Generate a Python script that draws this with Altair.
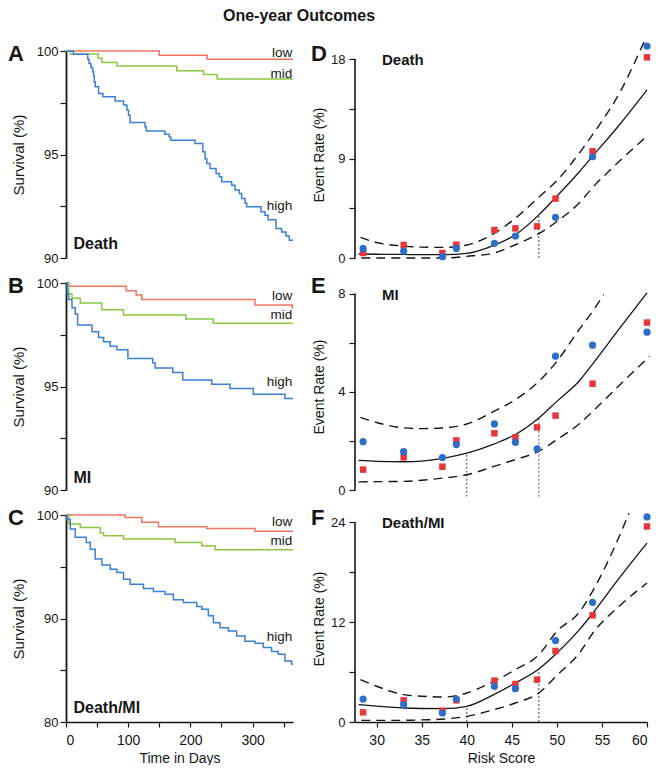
import altair as alt
import pandas as pd

FONT = "Liberation Sans"
INK = "#161616"

# ---------------- Kaplan-Meier steps (day, survival %) ----------------
A_LOW_DAY = [0, 150, 227, 365]
A_LOW_VAL = [100, 99.8, 99.6, 99.6]
A_MID_DAY = [0, 7, 52, 58, 82, 178, 221, 243, 365]
A_MID_VAL = [100, 99.85, 99.65, 99.45, 99.27, 99.05, 98.87, 98.65, 98.65]
A_HIGH_DAY = [0, 12, 35, 37, 40, 43, 44.5, 45.5, 47, 52.4, 59.4, 79, 92.5, 98, 100.5, 103,
              127, 129, 159, 166, 168.5, 207.5, 220, 223.6, 226.3, 231.6, 241.3, 246.6,
              250.4, 266.4, 271.7, 278.7, 282.5, 287.8, 290.5, 313.5, 320, 325, 337.6,
              346.7, 353.6, 359, 365]
A_HIGH_VAL = [100, 99.84, 99.6, 99.4, 99.2, 99.0, 98.8, 98.5, 98.27, 97.95, 97.79, 97.58,
              97.39, 97.15, 96.9, 96.55, 96.34, 96.14, 95.98, 95.85, 95.69, 95.53, 95.13,
              94.8, 94.56, 94.32, 94.08, 93.92, 93.68, 93.52, 93.28, 93.11, 92.87, 92.66,
              92.47, 92.23, 92.07, 91.85, 91.42, 91.26, 91.06, 90.86, 90.86]

B_LOW_DAY = [0, 4.2, 96.8, 112.8, 121.9, 303.9, 364, 365]
B_LOW_VAL = [100, 99.84, 99.63, 99.42, 99.2, 98.94, 98.78, 98.78]
B_MID_DAY = [0, 4.2, 9.6, 23, 57.7, 92.5, 192.6, 236.9, 365]
B_MID_VAL = [100, 99.47, 99.26, 99.03, 98.71, 98.45, 98.26, 98.06, 98.06]
B_HIGH_DAY = [0, 2, 4.2, 9.6, 14.9, 18.7, 41.7, 52.4, 60.4, 71.1, 81.8, 99.5, 139.6, 143.3,
              171.7, 187.8, 234.3, 263.7, 301.2, 352, 365]
B_HIGH_VAL = [100, 99.5, 99.2, 98.8, 98.5, 97.97, 97.65, 97.37, 97.16, 96.94, 96.77, 96.35,
              96.13, 95.89, 95.68, 95.32, 95.11, 94.9, 94.63, 94.42, 94.42]

C_LOW_DAY = [0, 95.2, 121.9, 148.7, 226.3, 303.9, 365]
C_LOW_VAL = [100, 99.77, 99.29, 98.87, 98.7, 98.42, 98.42]
C_MID_DAY = [0, 4.2, 23, 55, 60.4, 92.5, 175.4, 218.3, 239.6, 365]
C_MID_VAL = [100, 99.13, 98.8, 98.26, 98.0, 97.68, 97.35, 97.03, 96.65, 96.65]
C_HIGH_DAY = [0, 1.6, 6.9, 14.9, 32.6, 39, 47, 57.7, 71.1, 81.8, 92.5, 103.2, 124.6, 140.6,
              159.4, 172.7, 188.8, 210.2, 218.3, 228.9, 237, 247.6, 261, 274.4, 287.8,
              303.9, 317.3, 330.6, 341.3, 352, 362.7, 365]
C_HIGH_VAL = [100, 99.6, 98.65, 97.84, 97.35, 96.7, 95.74, 95.16, 94.77, 94.45, 93.8, 93.3,
              92.9, 92.6, 92.35, 91.8, 91.55, 91.16, 90.9, 90.26, 89.6, 89.1, 88.8, 88.3,
              87.8, 87.6, 87.2, 86.8, 86.55, 85.9, 85.6, 85.6]

GROUPS = ["low", "mid", "high"]
GROUP_COLORS = ["#f17661", "#8dc640", "#3b7fd6"]

# ---------------- Event rate by risk score ----------------
RISK_X = [28.5, 33.0, 37.3, 38.85, 43.07, 45.4, 47.8, 49.85, 53.96, 60.0]

D_BLUE = [0.87, 0.63, 0.12, 0.87, 1.33, 1.99, None, 3.68, 9.16, 19.17]
D_RED = [0.45, 1.18, 0.45, 1.21, 2.53, 2.68, 2.86, 5.37, 9.65, 18.15]
E_BLUE = [1.97, 1.56, 1.32, 1.85, 2.69, 1.94, 1.68, 5.45, 5.9, 6.43]
E_RED = [0.83, 1.33, 0.95, 2.02, 2.31, 2.15, 2.55, 3.03, 4.33, 6.82]
F_BLUE = [2.76, 2.08, 1.08, 2.76, 4.29, 4.0, None, 9.78, 14.38, 24.64]
F_RED = [1.16, 2.6, 1.36, 2.6, 4.97, 4.57, 5.09, 8.53, 12.82, 23.5]

FIT_X = [28, 30, 33, 35, 37.5, 40, 43, 45.4, 48, 50, 52.5, 54, 57, 60]
D_FIT = [0.36, 0.34, 0.32, 0.30, 0.30, 0.42, 1.15, 2.1, 3.9, 5.6, 7.8, 9.25, 12.1, 15.2]
D_UP_X = [28.2, 30, 33, 35, 37.5, 40, 43, 45.4, 48, 50, 52.5, 54, 57, 59.7]
D_UP = [1.87, 1.4, 1.08, 0.98, 0.96, 1.18, 2.2, 3.6, 5.5, 7.0, 9.5, 11.2, 15.0, 19.6]
D_LO_X = [28.3, 30, 33, 35, 37.5, 40, 43, 45.4, 48, 50, 52.5, 54, 57, 59.7]
D_LO = [0, 0, 0, 0, 0, 0.15, 0.45, 1.2, 2.2, 3.3, 5.0, 6.4, 8.8, 10.8]

E_FIT = [1.21, 1.17, 1.15, 1.18, 1.3, 1.5, 1.87, 2.26, 2.93, 3.61, 4.45, 5.15, 6.6, 8.03]
E_UP_X = [28.2, 30, 33, 35, 37.5, 40, 43, 45.4, 48, 50, 52.5, 54, 55.2]
E_UP = [2.96, 2.75, 2.53, 2.5, 2.53, 2.69, 3.2, 3.68, 4.43, 5.24, 6.55, 7.3, 7.96]
E_LO_X = [28, 30, 33, 35, 37.5, 40, 43, 45.4, 48, 50, 52.5, 54, 57, 60.3]
E_LO = [0.33, 0.34, 0.35, 0.4, 0.49, 0.62, 0.96, 1.24, 1.58, 2.05, 2.7, 3.21, 4.29, 5.45]

F_FIT = [2.08, 1.9, 1.68, 1.62, 1.6, 1.88, 3.29, 4.69, 6.37, 8.29, 11.1, 13.1, 17.4, 21.5]
F_UP_X = [28.2, 30, 33, 35, 37.5, 40, 43, 45.4, 48, 50, 52.5, 54, 57, 58]
F_UP = [5.09, 4.3, 3.29, 3.1, 3.0, 3.49, 4.89, 6.29, 8.09, 10.9, 13.2, 15.8, 22.5, 25.1]
F_LO_X = [28.3, 30, 33, 35, 37.5, 40, 43, 45.4, 48, 50, 52.5, 54, 57, 60]
F_LO = [0.2, 0.2, 0.2, 0.25, 0.36, 0.68, 1.48, 2.28, 3.49, 5.6, 8.3, 10.7, 14.0, 16.7]

D_CUTS = [48]
D_CUT_TOP = [3.9]
D_CUT_BOTTOM = 0
E_CUTS = [40, 48]
E_CUT_TOP = [1.5, 2.93]
E_CUT_BOTTOM = -0.27
F_CUTS = [40, 48]
F_CUT_TOP = [1.88, 6.37]
F_CUT_BOTTOM = 0

W_L, W_R, H = 227, 292, 207
BLUE_PT = "#2f6ec6"
RED_PT = "#e8363c"


def text_layer(txt, x, y, size, weight="bold", align="left"):
    return alt.Chart(pd.DataFrame({"t": [txt]})).mark_text(
        align=align, baseline="middle", fontSize=size, fontWeight=weight,
        font=FONT, color=INK).encode(x=alt.value(x), y=alt.value(y), text="t:N")


def km_panel(series, ylo, yticks, ymod, letter, name, name_y, label_y, show_x, extra=None):
    rows = []
    for grp, days, vals in series:
        for d, v in zip(days, vals):
            rows.append({"day": d, "surv": v, "group": grp})
    df = pd.DataFrame(rows)
    if show_x:
        xaxis = alt.Axis(values=list(range(0, 351, 50)),
                         labelExpr="datum.value % 100 == 0 ? datum.label : ''",
                         title="Time in Days", tickSize=5, labelPadding=6, titlePadding=4,
                         labelFontSize=14, titleFontSize=14, domainWidth=1.6)
    else:
        xaxis = None
    yaxis = alt.Axis(values=yticks,
                     labelExpr=f"datum.value % {ymod} == 0 ? datum.label : ''",
                     title="Survival (%)", tickSize=6, labelPadding=2, titleFontSize=15,
                     titleX=-40, labelFontSize=13, domainWidth=1.8)
    x = alt.X("day:Q", scale=alt.Scale(domain=[0, 365], nice=False, zero=False), axis=xaxis)
    y = alt.Y("surv:Q", scale=alt.Scale(domain=[ylo, 100], nice=False, zero=False), axis=yaxis)
    lines = alt.Chart(df).mark_line(interpolate="step-after", strokeWidth=1.5, clip=False).encode(
        x=x, y=y,
        color=alt.Color("group:N", scale=alt.Scale(domain=GROUPS, range=GROUP_COLORS), legend=None))
    lab = pd.DataFrame({"day": [364, 364, 364], "surv": label_y, "txt": GROUPS})
    labels = alt.Chart(lab).mark_text(align="right", baseline="middle", fontSize=13.5,
                                      font=FONT, color=INK).encode(x=x, y=y, text="txt:N")
    nm = pd.DataFrame({"day": [12], "surv": [name_y], "txt": [name]})
    name_l = alt.Chart(nm).mark_text(align="left", baseline="middle", fontSize=16,
                                     fontWeight="bold", font=FONT, color=INK).encode(
        x=x, y=y, text="txt:N")
    layers = [lines, labels, name_l, text_layer(letter, -58, 3, 22)]
    if extra is not None:
        layers.append(extra)
    return alt.layer(*layers).properties(width=W_L, height=H)


def rate_panel(blue, red, fit, up_x, up, lo_x, lo, cuts, cut_top, cut_bottom,
               ytop, axis_top, yticks, ymod, letter, name, show_x):
    if show_x:
        xaxis = alt.Axis(values=[30, 35, 40, 45, 50, 55, 60], title="Risk Score", tickSize=5,
                         labelPadding=6, titlePadding=4, labelFontSize=14, titleFontSize=14,
                         domainWidth=1.6)
    else:
        xaxis = None
    yaxis = alt.Axis(values=yticks,
                     labelExpr=f"datum.value % {ymod} == 0 ? datum.label : ''",
                     title="Event Rate (%)", tickSize=6, labelPadding=4, titleFontSize=14,
                     titleX=-29, labelFontSize=13, domain=False)
    x = alt.X("score:Q", scale=alt.Scale(domain=[27.6, 60], nice=False, zero=False), axis=xaxis)
    y = alt.Y("v:Q", scale=alt.Scale(domain=[0, ytop], nice=False, zero=False), axis=yaxis)

    axis_line = alt.Chart(pd.DataFrame({"v": [0], "v2": [axis_top]})).mark_rule(
        color=INK, strokeWidth=1.6).encode(x=alt.value(0), y=y, y2=alt.Y2("v2"))

    curves = pd.DataFrame(
        [{"score": s, "v": v, "c": "fit"} for s, v in zip(FIT_X, fit)])
    dashed = pd.DataFrame(
        [{"score": s, "v": v, "c": "up"} for s, v in zip(up_x, up)] +
        [{"score": s, "v": v, "c": "lo"} for s, v in zip(lo_x, lo)])
    fit_l = alt.Chart(curves).mark_line(color=INK, strokeWidth=1.3, interpolate="monotone",
                                        clip=False).encode(x=x, y=y)
    dash_l = alt.Chart(dashed).mark_line(color=INK, strokeWidth=1.4, strokeDash=[9, 6],
                                         interpolate="monotone", clip=False).encode(
        x=x, y=y, detail="c:N")
    cut_df = pd.DataFrame({"score": cuts, "v": [cut_bottom] * len(cuts), "v2": cut_top})
    cut_l = alt.Chart(cut_df).mark_rule(color="#333333", strokeWidth=0.9,
                                        strokeDash=[2, 2]).encode(x=x, y=y, y2=alt.Y2("v2"))
    red_df = pd.DataFrame({"score": RISK_X, "v": red}).dropna()
    blue_df = pd.DataFrame({"score": RISK_X, "v": blue}).dropna()
    red_l = alt.Chart(red_df).mark_point(shape="square", filled=True, size=42, color=RED_PT,
                                         opacity=1, clip=False).encode(x=x, y=y)
    blue_l = alt.Chart(blue_df).mark_point(shape="circle", filled=True, size=52, color=BLUE_PT,
                                           opacity=1, clip=False).encode(x=x, y=y)
    nm = pd.DataFrame({"score": [30.6], "v": [axis_top * 0.995], "txt": [name]})
    name_l = alt.Chart(nm).mark_text(align="left", baseline="middle", fontSize=15,
                                     fontWeight="bold", font=FONT, color=INK).encode(
        x=x, y=y, text="txt:N")
    return alt.layer(axis_line, cut_l, dash_l, fit_l, red_l, blue_l, name_l,
                     text_layer(letter, -44, 3, 22)).properties(width=W_R, height=H)


title = text_layer("One-year Outcomes", 233, -35, 16, align="center")

pA = km_panel([("low", A_LOW_DAY, A_LOW_VAL), ("mid", A_MID_DAY, A_MID_VAL),
               ("high", A_HIGH_DAY, A_HIGH_VAL)],
              90, [90, 92.5, 95, 97.5, 100], 5, "A", "Death", 90.68,
              [99.9, 98.9, 92.5], False, extra=title)
pB = km_panel([("low", B_LOW_DAY, B_LOW_VAL), ("mid", B_MID_DAY, B_MID_VAL),
               ("high", B_HIGH_DAY, B_HIGH_VAL)],
              90, [90, 92.5, 95, 97.5, 100], 5, "B", "MI", 90.6,
              [99.35, 98.45, 95.2], False)
pC = km_panel([("low", C_LOW_DAY, C_LOW_VAL), ("mid", C_MID_DAY, C_MID_VAL),
               ("high", C_HIGH_DAY, C_HIGH_VAL)],
              80, [80, 85, 90, 95, 100], 10, "C", "Death/MI", 81.4,
              [99.3, 97.5, 88.2], True)

pD = rate_panel(D_BLUE, D_RED, D_FIT, D_UP_X, D_UP, D_LO_X, D_LO, D_CUTS, D_CUT_TOP,
                D_CUT_BOTTOM, 18 * H / 199, 18, [0, 4.5, 9, 13.5, 18], 9, "D", "Death", False)
pE = rate_panel(E_BLUE, E_RED, E_FIT, E_UP_X, E_UP, E_LO_X, E_LO, E_CUTS, E_CUT_TOP,
                E_CUT_BOTTOM, 8 * H / 196.4, 8, [0, 2, 4, 6, 8], 4, "E", "MI", False)
pF = rate_panel(F_BLUE, F_RED, F_FIT, F_UP_X, F_UP, F_LO_X, F_LO, F_CUTS, F_CUT_TOP,
                F_CUT_BOTTOM, 24 * H / 199.7, 24, [0, 6, 12, 18, 24], 12, "F", "Death/MI", True)

chart = alt.concat(pA, pD, pB, pE, pC, pF, columns=2, spacing={"row": 25, "column": 62},
                   bounds="flush", align="each").properties(
    padding=0
).configure_view(stroke=None).configure_axis(
    labelFont=FONT, titleFont=FONT, labelColor=INK, titleColor=INK, tickColor=INK,
    domainColor=INK, grid=False, titleFontWeight="normal", tickWidth=1.2
).configure_text(font=FONT)

chart.save("out.html", embed_options={"renderer": "svg", "actions": False})
